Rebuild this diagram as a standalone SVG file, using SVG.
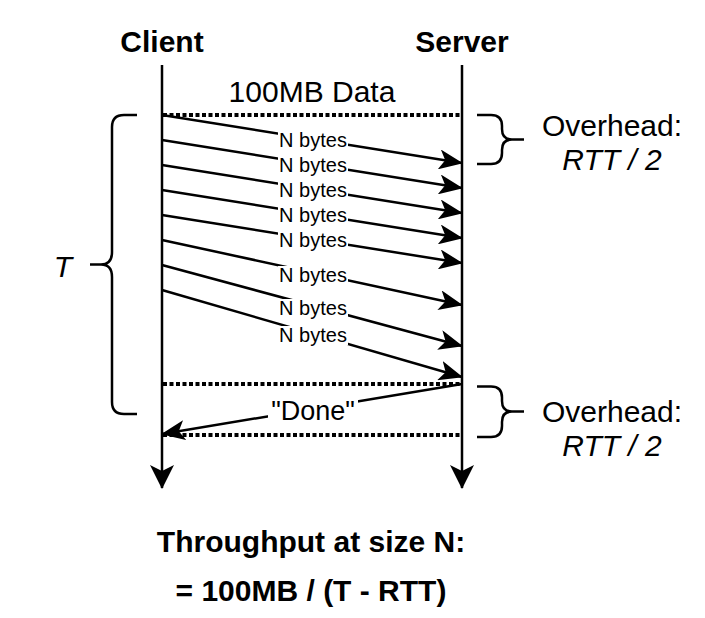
<svg xmlns="http://www.w3.org/2000/svg" width="705" height="618" viewBox="0 0 705 618">
<defs>
<style>
text{font-family:"Liberation Sans",Arial,sans-serif;fill:#000}
.title{font-size:30px;font-weight:bold;text-anchor:middle}
.big{font-size:30px;text-anchor:middle}
.it{font-style:italic}
.lbl{font-size:20px;text-anchor:middle}
.done{font-size:27px;text-anchor:middle}
.foot{font-size:30px;font-weight:bold;text-anchor:middle}
.life{stroke:#000;stroke-width:2.5;fill:none}
.msg{stroke:#000;stroke-width:2.5;fill:none;marker-end:url(#ah)}
.dot{stroke:#000;stroke-width:4;stroke-dasharray:4 2.5;fill:none}
.brace{stroke:#000;stroke-width:2.5;fill:none}
.bg{fill:#fff}
</style>
<marker id="ah" markerUnits="userSpaceOnUse" viewBox="0 0 24 20" markerWidth="24" markerHeight="20" refX="23" refY="10" orient="auto">
<path d="M0,0 L24,10 L0,20 L6,10 Z" fill="#000"/>
</marker>
<marker id="ahl" markerUnits="userSpaceOnUse" viewBox="0 0 24 24" markerWidth="24" markerHeight="24" refX="23" refY="12" orient="auto">
<path d="M0,0 L24,12 L0,24 L6,12 Z" fill="#000"/>
</marker>
</defs>
<rect width="705" height="618" fill="#fff"/>

<g id="client">
<text class="title" x="162" y="52">Client</text>
<line class="life" x1="162" y1="65" x2="162" y2="488" marker-end="url(#ahl)"/>
</g>
<g id="server">
<text class="title" x="462" y="52">Server</text>
<line class="life" x1="462" y1="65" x2="462" y2="488" marker-end="url(#ahl)"/>
</g>

<g id="phases">
<line class="dot" x1="163" y1="115" x2="461" y2="115"/>
<line class="dot" x1="163" y1="384" x2="461" y2="384"/>
<line class="dot" x1="163" y1="435" x2="461" y2="435"/>
<text class="big" x="312" y="102">100MB Data</text>
</g>

<g id="connectors">
<line class="msg" x1="162" y1="115" x2="462" y2="163"/>
<line class="msg" x1="162" y1="140" x2="462" y2="188"/>
<line class="msg" x1="162" y1="165" x2="462" y2="213"/>
<line class="msg" x1="162" y1="190" x2="462" y2="238"/>
<line class="msg" x1="162" y1="215" x2="462" y2="263"/>
<line class="msg" x1="162" y1="240" x2="462" y2="305"/>
<line class="msg" x1="162" y1="265" x2="462" y2="346"/>
<line class="msg" x1="162" y1="290" x2="462" y2="377"/>
<line class="msg" x1="462" y1="384" x2="162" y2="434"/>
<g id="labels">
<rect class="bg" x="278" y="131" width="70" height="19"/>
<text class="lbl" x="313" y="146.5">N bytes</text>
<rect class="bg" x="278" y="156" width="70" height="19"/>
<text class="lbl" x="313" y="171.5">N bytes</text>
<rect class="bg" x="278" y="181" width="70" height="19"/>
<text class="lbl" x="313" y="196.5">N bytes</text>
<rect class="bg" x="278" y="206" width="70" height="19"/>
<text class="lbl" x="313" y="221.5">N bytes</text>
<rect class="bg" x="278" y="231" width="70" height="19"/>
<text class="lbl" x="313" y="246.5">N bytes</text>
<rect class="bg" x="278" y="266" width="70" height="19"/>
<text class="lbl" x="313" y="281.5">N bytes</text>
<rect class="bg" x="278" y="299" width="70" height="19"/>
<text class="lbl" x="313" y="314.5">N bytes</text>
<rect class="bg" x="278" y="326" width="70" height="19"/>
<text class="lbl" x="313" y="341.5">N bytes</text>
<rect class="bg" x="268" y="397" width="90" height="26"/>
<text class="done" x="313" y="420">"Done"</text>
</g>
</g>

<g id="brace-T">
<path class="brace" d="M137,115 H124 Q112,115 112,127 V252 Q112,264.5 101,264.5 H90 M101,264.5 Q112,264.5 112,277 V402 Q112,414 124,414 H137"/>
<text class="big it" x="63" y="277">T</text>
</g>

<g id="brace-overhead-1">
<path class="brace" d="M477,115 H491 Q502,115 502,126 V129 Q502,139.5 512,139.5 H524 M512,139.5 Q502,139.5 502,150 V153 Q502,164 491,164 H477"/>
<text class="big" x="612" y="136">Overhead:</text>
<text class="big it" x="612" y="170">RTT / 2</text>
</g>

<g id="brace-overhead-2">
<path class="brace" d="M477,386.5 H491 Q502,386.5 502,397.5 V401 Q502,411.5 512,411.5 H524 M512,411.5 Q502,411.5 502,422 V426 Q502,437 491,437 H477"/>
<text class="big" x="612" y="422">Overhead:</text>
<text class="big it" x="612" y="456">RTT / 2</text>
</g>

<g id="result">
<text class="foot" x="311" y="552">Throughput at size N:</text>
<text class="foot" x="311" y="601">= 100MB / (T - RTT)</text>
</g>
</svg>
